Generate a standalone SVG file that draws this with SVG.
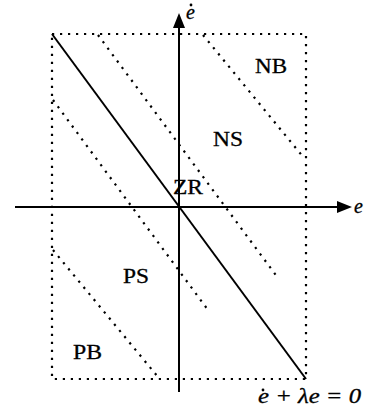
<svg xmlns="http://www.w3.org/2000/svg" width="371" height="409" viewBox="0 0 371 409">
<style>
.dot{fill:none;stroke:#000;stroke-width:2.2;stroke-dasharray:2.2 5.8;}
.solid{fill:none;stroke:#000;stroke-width:2;}
.lbl{font-family:"Liberation Serif","Times New Roman",serif;font-size:20px;fill:#000;stroke:#000;stroke-width:0.3;}
.ital{font-family:"Liberation Serif","Times New Roman",serif;font-size:20px;font-style:italic;fill:#000;stroke:#000;stroke-width:0.3;}
</style>
<rect width="371" height="409" fill="#fff"/>
<g id="frame">
<rect class="dot" x="52" y="34" width="254" height="345"/>
</g>
<g id="connectors">
<line class="dot" x1="203" y1="35" x2="304" y2="158"/>
<line class="dot" x1="98" y1="35" x2="278" y2="278"/>
<line class="dot" x1="53" y1="100" x2="208" y2="310"/>
<line class="dot" x1="53" y1="250" x2="158" y2="377"/>
<line class="solid" x1="52" y1="34" x2="306" y2="379"/>
<line class="solid" x1="179" y1="24" x2="179" y2="392"/>
<polygon points="179,13 173,28 185,28" fill="#000"/>
<line class="solid" x1="15" y1="207" x2="340" y2="207"/>
<polygon points="352,207 337,201 337,213" fill="#000"/>
</g>
<g id="axis-e-dot">
<text class="ital" x="186" y="19">e</text>
<circle cx="191" cy="5" r="1.4" fill="#000"/>
</g>
<g id="axis-e">
<text class="ital" x="354" y="213">e</text>
</g>
<g id="NB"><text class="lbl" x="255" y="73" textLength="32" lengthAdjust="spacingAndGlyphs">NB</text></g>
<g id="NS"><text class="lbl" x="213" y="146" textLength="30" lengthAdjust="spacingAndGlyphs">NS</text></g>
<g id="ZR"><text class="lbl" x="173" y="194" textLength="30" lengthAdjust="spacingAndGlyphs">ZR</text></g>
<g id="PS"><text class="lbl" x="123" y="283" textLength="26" lengthAdjust="spacingAndGlyphs">PS</text></g>
<g id="PB"><text class="lbl" x="73" y="359" textLength="29" lengthAdjust="spacingAndGlyphs">PB</text></g>
<g id="equation">
<text class="ital" x="258" y="403" textLength="103" lengthAdjust="spacingAndGlyphs">e + λe = 0</text>
<circle cx="263" cy="390" r="1.4" fill="#000"/>
</g>
</svg>
